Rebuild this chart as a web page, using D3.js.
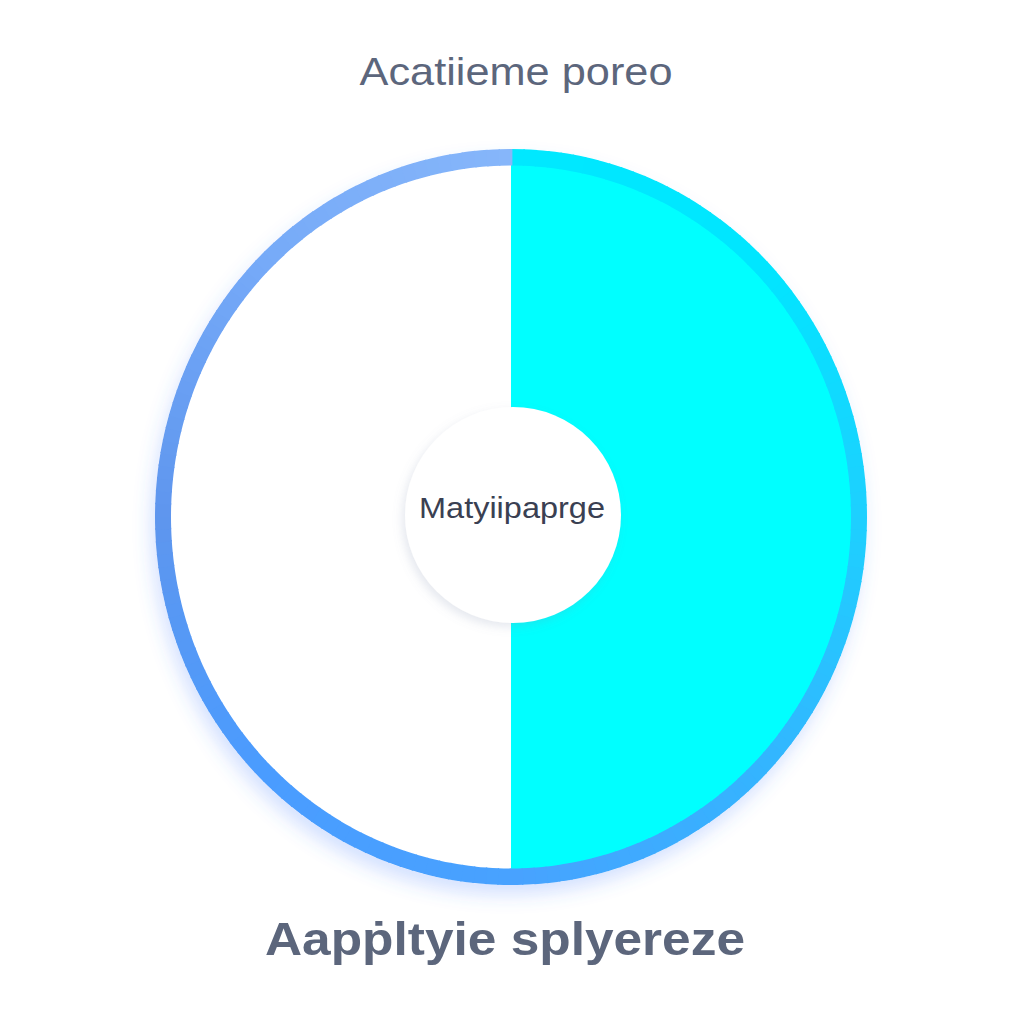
<!DOCTYPE html>
<html><head><meta charset="utf-8">
<script src="https://cdn.jsdelivr.net/npm/d3@7"></script>
<style>html,body{margin:0;padding:0;background:#fff;}svg{display:block;}</style>
</head><body>
<script>
const titleText = "Acatiieme poreo";
const centerLabel = "Matyiipaprge";
const footerText = "Aapṗltyie splyereze";
const categories = ["Right", "Left"];
const values = [50, 50];
const sliceColors = ["#00ffff", "#ffffff"];
// ring colour stops by angle (degrees, clockwise from top)
const ringAngles = [0, 45, 90, 135, 180, 225, 270, 315, 360];
const ringColors = ["#00e8ff", "#00e6ff", "#1ed0ff", "#34b4ff", "#48a2ff", "#4a9cff", "#5e96ee", "#76aaf8", "#86b6fa"];

const W = 1024, H = 1024;
const cx = 511, cy = 517, R = 356, ringW = 16, ySc = 368 / 356;

const svg = d3.select("body").append("svg").attr("width", W).attr("height", H);
const defs = svg.append("defs");
const sh = defs.append("filter").attr("id", "sh").attr("x", "-20%").attr("y", "-20%").attr("width", "140%").attr("height", "140%");
sh.append("feDropShadow").attr("dx", -4).attr("dy", 10).attr("stdDeviation", 9)
  .attr("flood-color", "#3c78ff").attr("flood-opacity", 0.22);
const sh2 = defs.append("filter").attr("id", "sh2").attr("x", "-30%").attr("y", "-30%").attr("width", "160%").attr("height", "160%");
sh2.append("feDropShadow").attr("dx", -3).attr("dy", 4).attr("stdDeviation", 5)
  .attr("flood-color", "#8090b0").attr("flood-opacity", 0.2);

// title
svg.append("text").attr("x", 516).attr("y", 85).attr("text-anchor", "middle")
  .attr("font-family", "Liberation Sans, Arial, sans-serif").attr("font-size", 39)
  .attr("fill", "#5c667c").attr("textLength", 313).attr("lengthAdjust", "spacingAndGlyphs")
  .text(titleText);

const g = svg.append("g").attr("transform", `translate(${cx},${cy}) scale(1,${ySc})`);

const pie = d3.pie().sort(null).value(d => d);
const arcs = pie(values);
const arc = d3.arc().innerRadius(0).outerRadius(R - 2);

// shadow base
g.append("circle").attr("r", R).attr("fill", "#ffffff").attr("filter", "url(#sh)");

g.selectAll("path.slice").data(arcs).enter().append("path").attr("class", "slice")
  .attr("d", arc).attr("fill", (d, i) => sliceColors[i]);

// ring
const angScale = d3.scaleLinear().domain(ringAngles).range(ringColors).interpolate(d3.interpolateRgb);
const nSeg = 180;
const segs = d3.range(nSeg).map(i => ({ a0: i * 2 * Math.PI / nSeg, a1: (i + 1) * 2 * Math.PI / nSeg + 0.004, mid: (i + 0.5) * 360 / nSeg }));
const ringArc = d3.arc().innerRadius(R - ringW).outerRadius(R).startAngle(d => d.a0).endAngle(d => d.a1);
g.selectAll("path.ring").data(segs).enter().append("path").attr("class", "ring")
  .attr("d", ringArc).attr("fill", d => angScale(d.mid));

// center circle
svg.append("circle").attr("cx", 513).attr("cy", 515).attr("r", 108)
  .attr("fill", "#ffffff").attr("filter", "url(#sh2)");
svg.append("text").attr("x", 512).attr("y", 518).attr("text-anchor", "middle")
  .attr("font-family", "Liberation Sans, Arial, sans-serif").attr("font-size", 29)
  .attr("fill", "#3a4052").attr("textLength", 186).attr("lengthAdjust", "spacingAndGlyphs")
  .text(centerLabel);

// footer
svg.append("text").attr("x", 505).attr("y", 955).attr("text-anchor", "middle")
  .attr("font-family", "Liberation Sans, Arial, sans-serif").attr("font-size", 46).attr("font-weight", 700)
  .attr("fill", "#5c667c").attr("textLength", 480).attr("lengthAdjust", "spacingAndGlyphs")
  .text(footerText);
</script>
</body></html>
